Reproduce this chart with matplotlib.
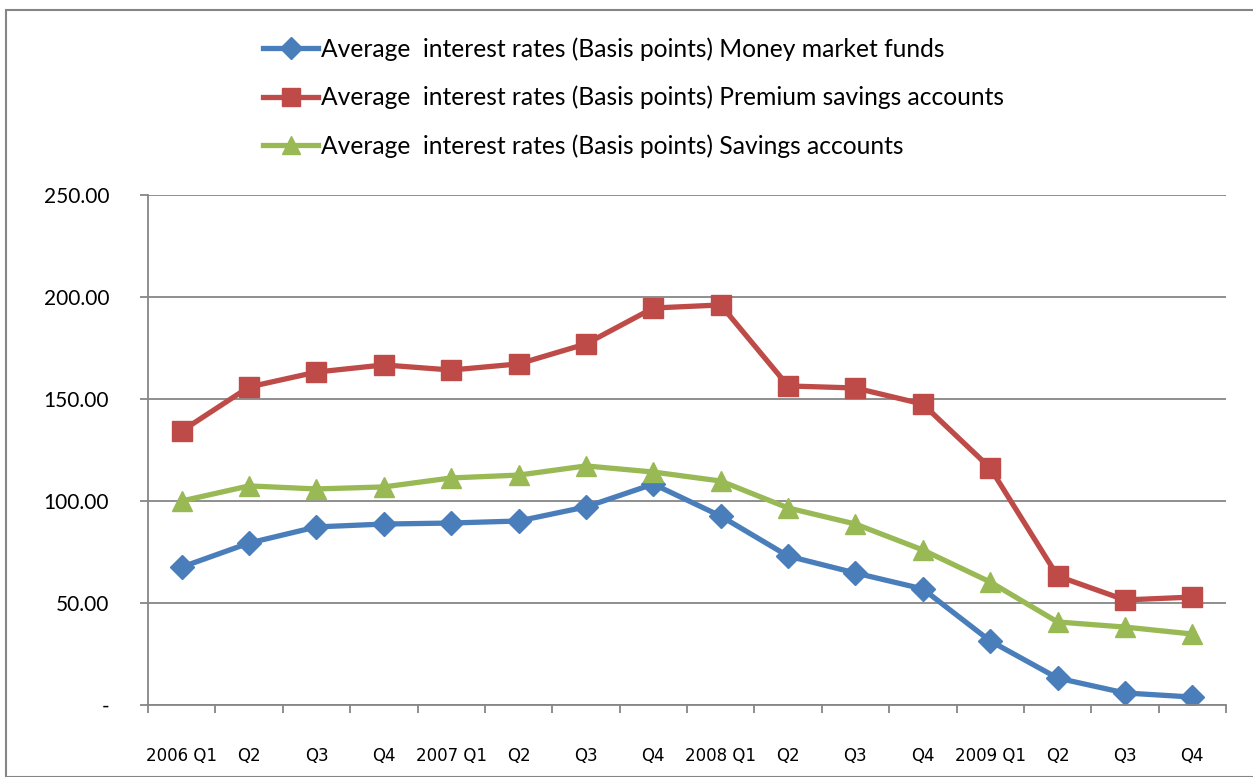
import matplotlib.pyplot as plt
import numpy as np
from matplotlib.patches import Rectangle
from matplotlib.ticker import FixedLocator, FuncFormatter

quarters = ['2006 Q1', 'Q2', 'Q3', 'Q4', '2007 Q1', 'Q2', 'Q3', 'Q4',
            '2008 Q1', 'Q2', 'Q3', 'Q4', '2009 Q1', 'Q2', 'Q3', 'Q4']
money_market = [67.6, 79.4, 87.3, 88.7, 89.2, 90.2, 97.1, 108.3,
                92.6, 73.0, 64.7, 56.9, 31.4, 13.2, 5.9, 3.9]
premium_savings = [134.3, 155.9, 163.2, 166.7, 164.2, 167.2, 177.0, 194.6,
                   196.1, 156.4, 155.4, 147.5, 116.2, 63.2, 51.5, 52.9]
savings = [100.0, 107.4, 105.9, 106.9, 111.3, 112.7, 117.2, 114.2,
           109.8, 96.6, 88.7, 76.0, 60.3, 40.7, 38.2, 34.8]
labels = ['Average  interest rates (Basis points) Money market funds',
          'Average  interest rates (Basis points) Premium savings accounts',
          'Average  interest rates (Basis points) Savings accounts']

grey = '#868686'
fig = plt.figure(figsize=(12.53, 7.77), dpi=100)
fig.patches.append(Rectangle((6/1253, 0), 1.0, 1 - 10/777, transform=fig.transFigure,
                             fill=False, edgecolor=grey, linewidth=1.5))
ax = fig.add_axes([148/1253, 72/777, 1078/1253, 510/777])

x = np.arange(len(quarters))
l1, = ax.plot(x, money_market, color='#4A7EBB', lw=3.8, marker='D', ms=12, label=labels[0])
l2, = ax.plot(x, premium_savings, color='#BE4B48', lw=3.8, marker='s', ms=14, label=labels[1])
l3, = ax.plot(x, savings, color='#98B954', lw=3.8, marker='^', ms=14, label=labels[2])

ax.set_xlim(-0.5, len(quarters) - 0.5)
ax.set_ylim(0, 250)
ax.set_yticks([0, 50, 100, 150, 200, 250])
ax.yaxis.set_major_formatter(FuncFormatter(lambda v, p: '-' if v == 0 else '%.2f' % v))
ax.grid(axis='y', color=grey, lw=1.3)
ax.set_axisbelow(True)

ax.set_xticks(x)
ax.set_xticklabels(quarters, family=['Liberation Sans Narrow', 'DejaVu Sans'], fontsize=12)
ax.xaxis.set_minor_locator(FixedLocator(np.arange(-0.5, len(quarters), 1)))
ax.tick_params(axis='x', which='major', length=0, pad=30)
ax.tick_params(axis='x', which='minor', length=6, color=grey, width=1.3)
ax.tick_params(axis='y', length=6, color=grey, width=1.3, pad=22, labelsize=15)
for t in ax.get_yticklabels():
    t.set_family(['Lato', 'DejaVu Sans'])

for s in ['top', 'right']:
    ax.spines[s].set_visible(False)
for s in ['left', 'bottom']:
    ax.spines[s].set_color(grey)
    ax.spines[s].set_linewidth(1.3)

fig.legend(handles=[l1, l2, l3], loc='upper left', bbox_to_anchor=(241/1253, 1 - 15/777),
           frameon=False, prop={'family': ['Lato', 'DejaVu Sans'], 'size': 17.7},
           labelspacing=1.02, handlelength=2.25, handletextpad=0.1, markerscale=0.95)

plt.savefig('out.png')
